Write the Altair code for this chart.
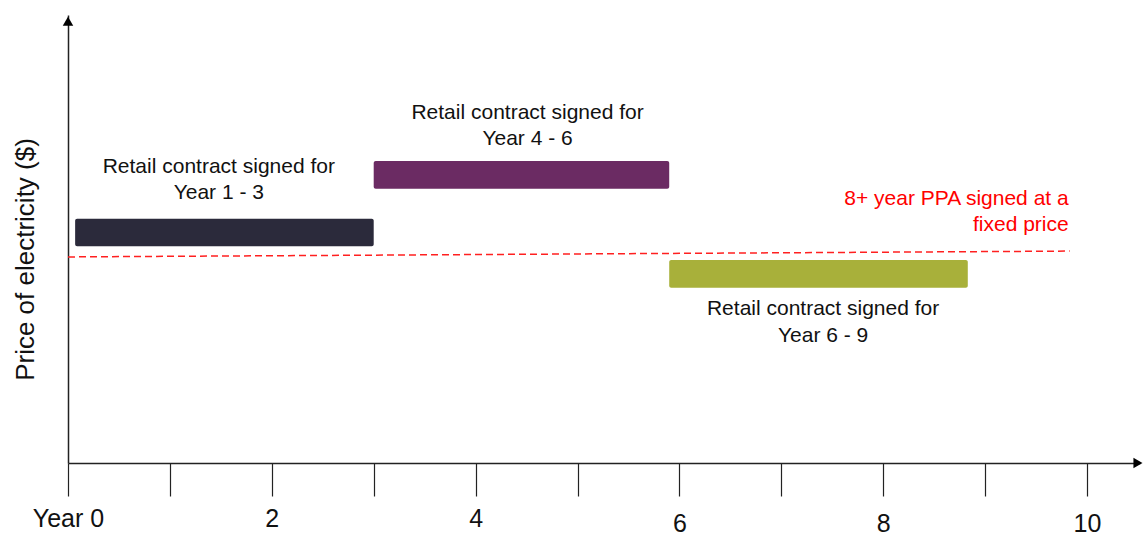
import altair as alt
import pandas as pd

# Contract bars (years, price units)
bar_names = ["Year 1 - 3", "Year 4 - 6", "Year 6 - 9"]
bar_start = [0.07, 3.0, 5.9]
bar_end = [3.0, 5.9, 8.83]
bar_low = [48.4, 61.2, 39.1]
bar_high = [54.5, 67.4, 45.3]
bar_colors = ["#2b2a3b", "#6b2b63", "#a8b03a"]

# PPA fixed-price line
ppa_x = [0.0, 9.83]
ppa_y = [46.0, 47.3]

# Annotation labels
label_lines = ["Retail contract signed for", "Year 1 - 3",
               "Retail contract signed for", "Year 4 - 6",
               "Retail contract signed for", "Year 6 - 9"]
label_x = [1.48, 1.48, 4.51, 4.51, 7.41, 7.41]
label_y = [66.1, 60.3, 78.1, 72.3, 34.4, 28.3]

ppa_lines = ["8+ year PPA signed at a", "fixed price"]
ppa_label_x = [9.82, 9.82]
ppa_label_y = [58.9, 53.1]

x_ticks = list(range(0, 11))

FONT = "Liberation Sans"
XDOM = [0, 10.52]
YDOM = [0, 100]

xs = alt.Scale(domain=XDOM, nice=False, zero=False)
ys = alt.Scale(domain=YDOM, nice=False, zero=False)

bars_df = pd.DataFrame({"name": bar_names, "x": bar_start, "x2": bar_end,
                        "y": bar_low, "y2": bar_high, "color": bar_colors})
ppa_df = pd.DataFrame({"x": ppa_x, "y": ppa_y})
lab_df = pd.DataFrame({"t": label_lines, "x": label_x, "y": label_y})
ppa_lab_df = pd.DataFrame({"t": ppa_lines, "x": ppa_label_x, "y": ppa_label_y})
arrow_df = pd.DataFrame({"x": [0.0, 10.5], "y": [98.6, 0.0],
                         "shape": ["triangle-up", "triangle-right"]})

x_axis = alt.Axis(values=x_ticks, grid=False, domainColor="#222", domainWidth=1.5,
                  tickColor="#222", tickWidth=1.2, tickSize=33, format="d",
                  labelExpr="datum.value == 0 ? 'Year 0' : (datum.value % 2 == 0 ? datum.label : '')",
                  labelFontSize=25, labelFont=FONT, labelColor="#111",
                  labelPadding={"condition": {"test": "datum.value >= 6", "value": 15}, "value": 10},
                  labelFlush=False, labelOverlap=False, title=None)
y_axis = alt.Axis(grid=False, ticks=False, labels=False, domainColor="#222", domainWidth=1.5,
                  title="Price of electricity ($)", titleFontSize=26, titleFont=FONT,
                  titleFontWeight="normal", titleColor="#111", titleX=-43, titleY=244,
                  titleAngle=270, titleAlign="center", titleBaseline="middle")

base_axes = alt.Chart(ppa_df).mark_point(opacity=0).encode(
    x=alt.X("x:Q", scale=xs, axis=x_axis),
    y=alt.Y("y:Q", scale=ys, axis=y_axis),
)

bars = alt.Chart(bars_df).mark_rect(cornerRadius=2).encode(
    x=alt.X("x:Q", scale=xs),
    x2="x2:Q",
    y=alt.Y("y:Q", scale=ys),
    y2="y2:Q",
    color=alt.Color("color:N", scale=None),
)

ppa = alt.Chart(ppa_df).mark_line(color="#ff2020", strokeDash=[7, 4], strokeWidth=1.5).encode(
    x=alt.X("x:Q", scale=xs),
    y=alt.Y("y:Q", scale=ys),
)

labels = alt.Chart(lab_df).mark_text(font=FONT, fontSize=21, color="#111", align="center",
                                     baseline="middle").encode(
    x=alt.X("x:Q", scale=xs),
    y=alt.Y("y:Q", scale=ys),
    text="t:N",
)

ppa_labels = alt.Chart(ppa_lab_df).mark_text(font=FONT, fontSize=21, color="#ff0000", align="right",
                                             baseline="middle").encode(
    x=alt.X("x:Q", scale=xs),
    y=alt.Y("y:Q", scale=ys),
    text="t:N",
)

arrows = alt.Chart(arrow_df).mark_point(filled=True, color="#000", opacity=1, size=110).encode(
    x=alt.X("x:Q", scale=xs),
    y=alt.Y("y:Q", scale=ys),
    shape=alt.Shape("shape:N", scale=None),
)

chart = alt.layer(base_axes, ppa, bars, labels, ppa_labels, arrows).properties(
    width=1072, height=448,
    padding={"left": 68, "top": 15, "right": 3, "bottom": 73},
    autosize=alt.AutoSizeParams(type="none"),
    background="white",
).configure_view(stroke=None)

chart.save("out.html", embed_options={"renderer": "svg", "actions": False})
